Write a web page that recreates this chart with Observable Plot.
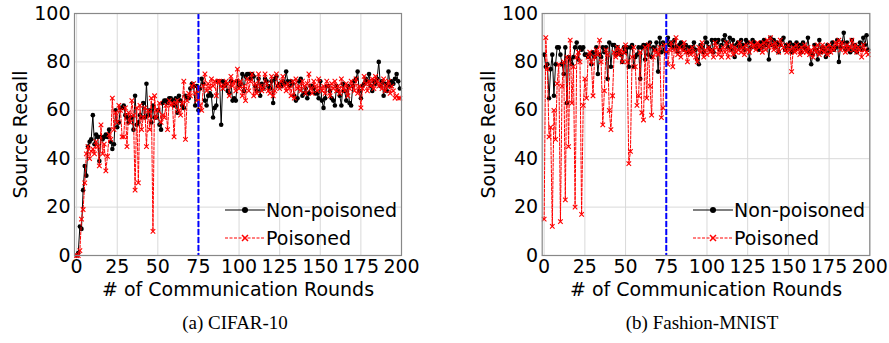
<!DOCTYPE html>
<html>
<head>
<meta charset="utf-8">
<script src="https://cdn.jsdelivr.net/npm/d3@7"></script>
<script src="https://cdn.jsdelivr.net/npm/@observablehq/plot@0.6"></script>
<style>
  html, body { margin: 0; padding: 0; background: #fff; }
  #wrap { position: relative; width: 889px; height: 343px; overflow: hidden; font-family: "DejaVu Sans", sans-serif; }
  .panel { position: absolute; top: 0; }
  .legend { position: absolute; top: 0; }
  .caption { position: absolute; top: 311px; width: 300px; text-align: center; font-family: "Liberation Serif", "DejaVu Serif", serif; font-size: 19px; line-height: 24px; color: #000; }
</style>
</head>
<body>
<div id="wrap"></div>
<script>
// ---- data ----
const xTicks = [0, 25, 50, 75, 100, 125, 150, 175, 200];
const yTicks = [0, 20, 40, 60, 80, 100];
const cutRound = [75];
const seriesNames = ["Non-poisoned", "Poisoned"];
const captions = ["(a) CIFAR-10", "(b) Fashion-MNIST"];
const xLabel = "# of Communication Rounds";
const yLabel = "Source Recall";

const cifarNonPoisoned = [
  0, 1, 12, 11, 27, 37, 33, 45, 47, 48,
  58, 46, 50, 49, 39, 49, 48, 49, 50, 49,
  52, 47, 44, 46, 60, 53, 55, 61, 61, 62,
  58, 57, 55, 57, 57, 52, 66, 54, 55, 58,
  57, 63, 57, 71, 58, 60, 55, 62, 57, 57,
  60, 54, 52, 63, 64, 64, 63, 65, 65, 64,
  62, 65, 59, 66, 64, 62, 61, 66, 65, 65,
  69, 71, 70, 62, 70, 60, 69, 73, 71, 64,
  62, 66, 67, 66, 57, 61, 62, 72, 72, 54,
  72, 70, 71, 68, 67, 72, 64, 65, 64, 72,
  70, 71, 75, 68, 74, 75, 75, 73, 75, 74,
  70, 68, 73, 66, 71, 69, 73, 72, 70, 69,
  72, 63, 73, 74, 70, 71, 70, 72, 71, 76,
  72, 70, 72, 71, 66, 64, 65, 72, 73, 66,
  67, 69, 65, 67, 70, 70, 69, 67, 67, 65,
  72, 64, 61, 65, 70, 70, 68, 65, 64, 62,
  70, 68, 66, 62, 71, 68, 64, 70, 63, 62,
  70, 72, 73, 76, 68, 65, 70, 71, 73, 72,
  75, 70, 68, 72, 71, 73, 80, 70, 72, 66,
  71, 68, 76, 70, 72, 71, 73, 75, 72, 69
];
const cifarPoisoned = [
  0, 0, 2, 15, 19, 30, 42, 45, 40, 43,
  44, 42, 47, 45, 37, 54, 42, 46, 35, 41,
  50, 48, 65, 52, 59, 55, 62, 60, 49, 49,
  61, 45, 59, 55, 64, 58, 27, 61, 30, 62,
  52, 57, 61, 45, 60, 52, 65, 10, 66, 57,
  60, 63, 55, 58, 57, 62, 52, 64, 62, 63,
  49, 63, 64, 60, 58, 63, 72, 48, 64, 67,
  66, 70, 71, 67, 64, 69, 62, 60, 70, 75,
  68, 71, 69, 73, 70, 72, 66, 72, 72, 70,
  69, 70, 72, 71, 66, 74, 70, 72, 68, 77,
  69, 72, 66, 70, 64, 73, 68, 72, 75, 66,
  71, 67, 75, 70, 68, 69, 75, 71, 68, 67,
  74, 66, 68, 75, 70, 69, 72, 74, 70, 68,
  71, 69, 66, 72, 65, 73, 69, 70, 68, 72,
  70, 67, 71, 75, 69, 67, 72, 70, 68, 73,
  69, 68, 70, 67, 72, 70, 66, 71, 69, 72,
  68, 70, 67, 73, 69, 68, 71, 66, 69, 72,
  70, 68, 73, 67, 70, 61, 69, 74, 71, 68,
  72, 70, 73, 69, 74, 72, 70, 71, 69, 73,
  68, 70, 72, 67, 70, 68, 65, 66, 65, 65
];
const fmnistNonPoisoned = [
  83, 78, 79, 65, 77, 83, 66, 79, 86, 86,
  83, 79, 75, 86, 63, 82, 81, 79, 82, 86,
  88, 81, 86, 85, 86, 83, 83, 82, 83, 79,
  84, 82, 86, 75, 83, 82, 86, 84, 86, 73,
  88, 78, 87, 87, 83, 86, 84, 83, 80, 86,
  84, 86, 78, 86, 87, 78, 82, 83, 86, 73,
  86, 87, 81, 87, 83, 88, 82, 86, 85, 88,
  76, 90, 84, 88, 85, 84, 90, 87, 88, 86,
  89, 86, 84, 87, 88, 86, 85, 87, 84, 86,
  84, 86, 88, 85, 81, 79, 87, 86, 84, 90,
  88, 86, 85, 89, 84, 89, 88, 89, 85, 87,
  89, 91, 88, 86, 90, 85, 89, 82, 87, 88,
  86, 89, 87, 85, 89, 88, 81, 86, 89, 88,
  86, 87, 85, 88, 86, 89, 87, 88, 81, 90,
  87, 89, 86, 88, 84, 87, 89, 90, 85, 87,
  86, 88, 84, 87, 85, 88, 86, 87, 84, 88,
  86, 85, 90, 84, 79, 83, 87, 85, 81, 89,
  84, 86, 85, 82, 87, 84, 86, 88, 85, 86,
  89, 80, 86, 88, 92, 85, 88, 86, 84, 89,
  85, 87, 84, 86, 88, 85, 90, 87, 91, 85
];
const fmnistPoisoned = [
  15, 90, 77, 49, 53, 12, 60, 48, 71, 79,
  14, 70, 80, 23, 82, 45, 89, 63, 78, 20,
  82, 84, 80, 17, 62, 73, 65, 82, 84, 80,
  66, 82, 85, 83, 89, 80, 54, 68, 85, 83,
  60, 52, 66, 84, 82, 86, 83, 85, 80, 84,
  87, 80, 38, 43, 82, 86, 78, 62, 66, 84,
  59, 56, 86, 65, 87, 70, 58, 82, 85, 84,
  83, 86, 57, 61, 87, 84, 79, 85, 88, 78,
  85, 90, 83, 86, 82, 85, 88, 84, 80, 85,
  83, 86, 84, 82, 80, 86, 84, 88, 82, 85,
  83, 86, 84, 85, 82, 88, 86, 83, 85, 82,
  86, 84, 88, 82, 85, 87, 83, 86, 84, 85,
  88, 84, 86, 83, 87, 85, 84, 88, 86, 87,
  85, 88, 86, 87, 84, 88, 85, 89, 86, 90,
  87, 85, 88, 86, 84, 89, 87, 86, 85, 84,
  87, 85, 76, 86, 84, 87, 85, 83, 86, 84,
  87, 84, 86, 83, 85, 82, 86, 84, 87, 83,
  85, 87, 84, 86, 83, 87, 84, 86, 85, 88,
  87, 89, 85, 88, 86, 84, 87, 85, 86, 89,
  85, 87, 84, 86, 85, 82, 87, 85, 84, 83
];

// ---- drawing ----
const wrap = document.getElementById("wrap");

function toRows(arr) { return arr.map((v, i) => ({round: i, recall: v})); }

function panel(clean, poisoned, opts) {
  const a = toRows(clean), b = toRows(poisoned);
  const chart = Plot.plot({
    width: 420,
    height: 300,
    marginLeft: opts.ml,
    marginRight: opts.mr,
    marginTop: 13,
    marginBottom: 45,
    style: {fontFamily: "DejaVu Sans, sans-serif", fontSize: "19px", color: "#000", background: "#fff"},
    x: {domain: [opts.x0, 200], ticks: xTicks, tickSize: 0, tickPadding: 4, tickFormat: d => String(d),
        label: xLabel, labelAnchor: "center", labelOffset: 40, labelArrow: "none"},
    y: {domain: [0, 100], ticks: yTicks, tickSize: 0, tickPadding: 4, tickFormat: d => String(d),
        label: yLabel, labelAnchor: "center", labelOffset: 61, labelArrow: "none"},
    marks: [
      Plot.gridX(xTicks, {stroke: "#d9d9d9", strokeOpacity: 1, strokeWidth: 1}),
      Plot.gridY(yTicks, {stroke: "#d9d9d9", strokeOpacity: 1, strokeWidth: 1}),
      Plot.line(a, {x: "round", y: "recall", stroke: "#000", strokeWidth: 1}),
      Plot.dot(a, {x: "round", y: "recall", fill: "#000", r: 2.3, stroke: null}),
      Plot.line(b, {x: "round", y: "recall", stroke: "#ff0000", strokeWidth: 1, strokeDasharray: "3,1.5"}),
      Plot.dot(b, {x: "round", y: "recall", symbol: "times", stroke: "#ff0000", strokeWidth: 1.1, r: 2.2}),
      Plot.ruleX(cutRound, {stroke: "#0000ff", strokeWidth: 2, strokeDasharray: "6,2"}),
      Plot.frame({stroke: "#888", strokeWidth: 1.2})
    ]
  });
  chart.classList.add("panel");
  chart.style.left = opts.left + "px";
  wrap.appendChild(chart);

  // legend
  const ns = "http://www.w3.org/2000/svg";
  const lg = document.createElementNS(ns, "svg");
  lg.setAttribute("class", "legend");
  lg.setAttribute("width", 200); lg.setAttribute("height", 60);
  lg.style.left = opts.legX + "px"; lg.style.top = "195px";
  const rows = [
    {name: seriesNames[0], y: 15, color: "#000", dash: null, marker: "dot"},
    {name: seriesNames[1], y: 43, color: "#ff0000", dash: "3,1.5", marker: "x"}
  ];
  for (const r of rows) {
    const ln = document.createElementNS(ns, "line");
    ln.setAttribute("x1", 0); ln.setAttribute("x2", 40);
    ln.setAttribute("y1", r.y); ln.setAttribute("y2", r.y);
    ln.setAttribute("stroke", r.color); ln.setAttribute("stroke-width", 1);
    if (r.dash) ln.setAttribute("stroke-dasharray", r.dash);
    lg.appendChild(ln);
    if (r.marker === "dot") {
      const c = document.createElementNS(ns, "circle");
      c.setAttribute("cx", 20); c.setAttribute("cy", r.y); c.setAttribute("r", 3);
      c.setAttribute("fill", r.color);
      lg.appendChild(c);
    } else {
      const p = document.createElementNS(ns, "path");
      p.setAttribute("d", `M17,${r.y-3}L23,${r.y+3}M17,${r.y+3}L23,${r.y-3}`);
      p.setAttribute("stroke", r.color); p.setAttribute("stroke-width", 1.5);
      lg.appendChild(p);
    }
    const t = document.createElementNS(ns, "text");
    t.setAttribute("x", 41); t.setAttribute("y", r.y);
    t.setAttribute("dy", "0.35em");
    t.setAttribute("font-family", "DejaVu Sans, sans-serif");
    t.setAttribute("font-size", "19px");
    t.textContent = r.name;
    lg.appendChild(t);
  }
  wrap.appendChild(lg);

  const cap = document.createElement("div");
  cap.className = "caption";
  cap.textContent = opts.caption;
  cap.style.left = (opts.capX - 150) + "px";
  wrap.appendChild(cap);
}

panel(cifarNonPoisoned, cifarPoisoned, {left: 0, ml: 74, mr: 19, x0: -1.3, legX: 225, caption: captions[0], capX: 235});
panel(fmnistNonPoisoned, fmnistPoisoned, {left: 469, ml: 72.7, mr: 19.7, x0: -1.2, legX: 693, caption: captions[1], capX: 702});
</script>
</body>
</html>
